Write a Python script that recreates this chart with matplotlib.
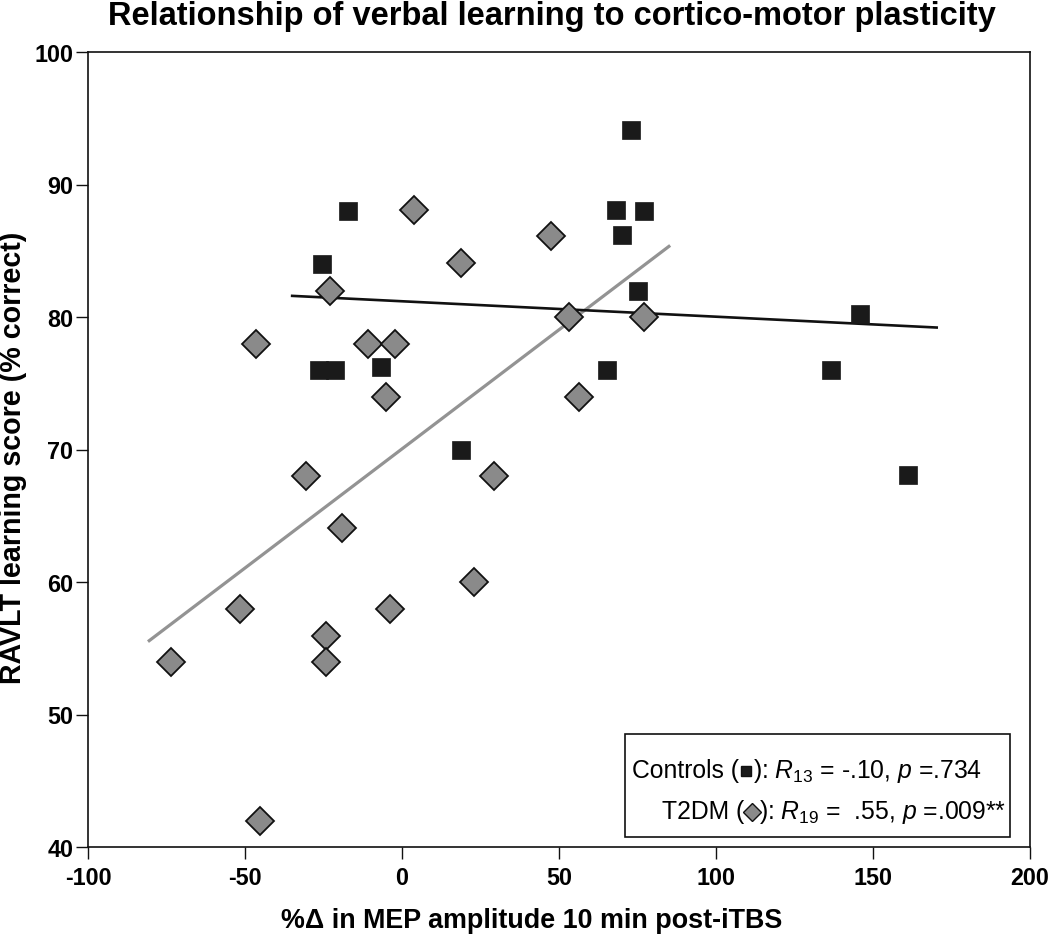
import matplotlib
matplotlib.use('Agg')
import matplotlib.pyplot as plt
from matplotlib.transforms import IdentityTransform
from matplotlib.lines import Line2D
from matplotlib.patches import Rectangle

plt.rcParams['font.family'] = ['Liberation Sans', 'DejaVu Sans']
plt.rcParams['mathtext.fontset'] = 'custom'
plt.rcParams['mathtext.rm'] = 'Liberation Sans'
plt.rcParams['mathtext.it'] = 'Liberation Sans:italic'

# ---- data ----
ctrl_x = [-17.2, -25.5, -26.4, -21.3, -6.7, 18.8, 72.9, 68.2, 77.1, 70.1, 75.2, 145.9, 65.3, 136.6, 161.1]
ctrl_y = [88.0, 84.0, 76.0, 76.0, 76.2, 70.0, 94.1, 88.1, 88.0, 86.2, 82.0, 80.2, 76.0, 76.0, 68.1]

t2dm_x = [-22.9, 3.8, 18.8, -46.5, -10.8, -2.2, -5.1, -30.6, 29.3, -19.1, 22.9,
          -51.6, -3.8, -24.2, -24.2, -73.6, -45.2, 47.5, 53.2, 77.1, 56.4]
t2dm_y = [82.0, 88.1, 84.1, 78.0, 78.0, 78.0, 74.0, 68.0, 68.0, 64.1, 60.0,
          58.0, 58.0, 55.9, 54.0, 54.0, 42.0, 86.1, 80.0, 80.0, 74.0]

ctrl_fit_x = [-35.4, 170.7]
ctrl_fit_y = [81.6, 79.2]
t2dm_fit_x = [-80.9, 85.4]
t2dm_fit_y = [55.5, 85.4]

x_ticks = [-100, -50, 0, 50, 100, 150, 200]
x_ticklabels = ['-100', '-50', '0', '50', '100', '150', '200']
y_ticks = [40, 50, 60, 70, 80, 90, 100]
y_ticklabels = ['40', '50', '60', '70', '80', '90', '100']

title = 'Relationship of verbal learning to cortico-motor plasticity'
xlabel = '%\u0394 in MEP amplitude 10 min post-iTBS'
ylabel = 'RAVLT learning score (% correct)'

W, H = 1050, 937
fig = plt.figure(figsize=(W / 100, H / 100), dpi=100)
ax = fig.add_axes([88 / W, (H - 848) / H, 942 / W, 795 / H])

ax.plot(t2dm_fit_x, t2dm_fit_y, color='#939393', lw=2.3, solid_capstyle='butt', zorder=2)
ax.plot(ctrl_fit_x, ctrl_fit_y, color='#111111', lw=1.9, solid_capstyle='butt', zorder=2)
ax.plot(t2dm_x, t2dm_y, linestyle='none', marker='D', markersize=13.8,
        markerfacecolor='#8a8a8a', markeredgecolor='#111111', markeredgewidth=1.3, zorder=3)
ax.plot(ctrl_x, ctrl_y, linestyle='none', marker='s', markersize=13,
        markerfacecolor='#1a1a1a', markeredgecolor='#1a1a1a', markeredgewidth=0.5, zorder=4)

ax.set_xlim(-100, 200)
ax.set_ylim(40, 100)
ax.set_xticks(x_ticks)
ax.set_xticklabels(x_ticklabels)
ax.set_yticks(y_ticks)
ax.set_yticklabels(y_ticklabels)
for lab in ax.get_xticklabels() + ax.get_yticklabels():
    lab.set_fontweight('bold')
    lab.set_fontsize(16.8)
ax.tick_params(axis='both', direction='out', length=8.5, width=1.0, color='#111111')
ax.tick_params(axis='x', pad=5)
ax.tick_params(axis='y', pad=2)
for s in ax.spines.values():
    s.set_linewidth(1.2)
    s.set_color('#111111')

ax.set_xlabel(xlabel, fontsize=19.4, fontweight='bold')
ax.xaxis.set_label_coords((532 - 88) / 942, -(928 - 848) / 795)
ax.xaxis.label.set_va('baseline')
ax.set_ylabel(ylabel, fontsize=20.6, fontweight='bold')
ax.yaxis.set_label_coords(-(88 - 13) / 942, (848 - 458) / 795)
ax.yaxis.label.set_va('center')
fig.text(552 / W, 1 - 25 / H, title, fontsize=23.5, fontweight='bold',
         ha='center', va='baseline')

# ---- legend box with stats ----
ident = IdentityTransform()
fig.add_artist(Rectangle((625, H - 838), 385, 103, transform=ident,
                         facecolor='white', edgecolor='#111111', lw=1.2, zorder=5))

fig.canvas.draw()
renderer = fig.canvas.get_renderer()
FS = 17.8


def chain(x, y, parts):
    for kind, val in parts:
        if kind == 'text':
            t = fig.text(x, y, val, transform=ident, ha='left', va='baseline',
                         fontsize=FS, zorder=6)
            bb = t.get_window_extent(renderer)
            x = bb.x1
        else:
            mk, size, fc, w = val
            fig.add_artist(Line2D([x + w / 2], [y + 6.5], transform=ident, marker=mk,
                                  markersize=size, markerfacecolor=fc,
                                  markeredgecolor='#111111', markeredgewidth=1.0,
                                  linestyle='none', zorder=6))
            x = x + w


chain(632, H - 778, [('text', 'Controls ('), ('m', ('s', 7.5, '#1a1a1a', 14)),
                     ('text', r'): $\mathit{R}_{13}$ = -.10, $\mathit{p}$ =.734')])
chain(662, H - 819, [('text', 'T2DM ('), ('m', ('D', 9, '#8a8a8a', 15)),
                     ('text', r'): $\mathit{R}_{19}$ =  .55, $\mathit{p}$ =.009**')])

fig.savefig('out.png', dpi=100)
